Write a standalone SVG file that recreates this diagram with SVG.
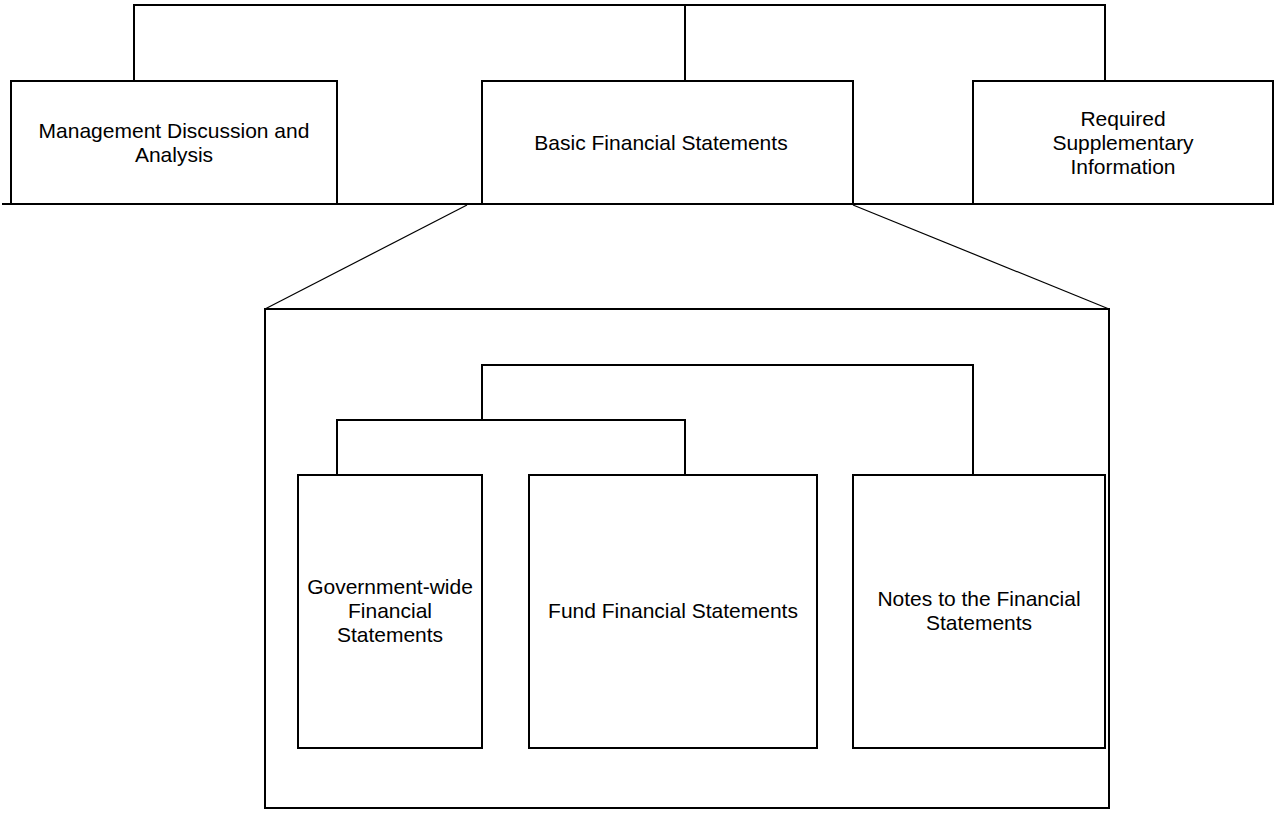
<svg xmlns="http://www.w3.org/2000/svg" width="1274" height="819" viewBox="0 0 1274 819">
<style>
.box{fill:#fff;stroke:#000;stroke-width:2}
.con{fill:none;stroke:#000;stroke-width:2}
.thin{fill:none;stroke:#000;stroke-width:1.2}
text{font-family:"Liberation Sans",Arial,sans-serif;font-size:21px;fill:#000;text-anchor:middle}
</style>
<rect width="1274" height="819" fill="#fff"/>
<g id="bfs-detail">
<rect class="box" x="265" y="309" width="844" height="499"/>
</g>
<g id="connectors">
<path class="con" d="M134,81 V5 H1105 V81"/>
<path class="con" d="M685,5 V81"/>
<path class="con" d="M2,204 H1273"/>
<path class="thin" d="M467,205 L265,309"/>
<path class="thin" d="M853,205 L1109,309"/>
<path class="con" d="M482,420 V365 H973 V475"/>
<path class="con" d="M337,475 V420 H685 V475"/>
</g>
<g id="mda">
<rect class="box" x="11" y="81" width="326" height="123"/>
<text x="174" y="138">Management Discussion and</text>
<text x="174" y="162">Analysis</text>
</g>
<g id="bfs">
<rect class="box" x="482" y="81" width="371" height="123"/>
<text x="661" y="150">Basic Financial Statements</text>
</g>
<g id="rsi">
<rect class="box" x="973" y="81" width="300" height="123"/>
<text x="1123" y="126">Required</text>
<text x="1123" y="150">Supplementary</text>
<text x="1123" y="174">Information</text>
</g>
<g id="gov">
<rect class="box" x="298" y="475" width="184" height="273"/>
<text x="390" y="594">Government-wide</text>
<text x="390" y="618">Financial</text>
<text x="390" y="642">Statements</text>
</g>
<g id="fund">
<rect class="box" x="529" y="475" width="288" height="273"/>
<text x="673" y="618">Fund Financial Statements</text>
</g>
<g id="notes">
<rect class="box" x="853" y="475" width="252" height="273"/>
<text x="979" y="606">Notes to the Financial</text>
<text x="979" y="630">Statements</text>
</g>
</svg>
